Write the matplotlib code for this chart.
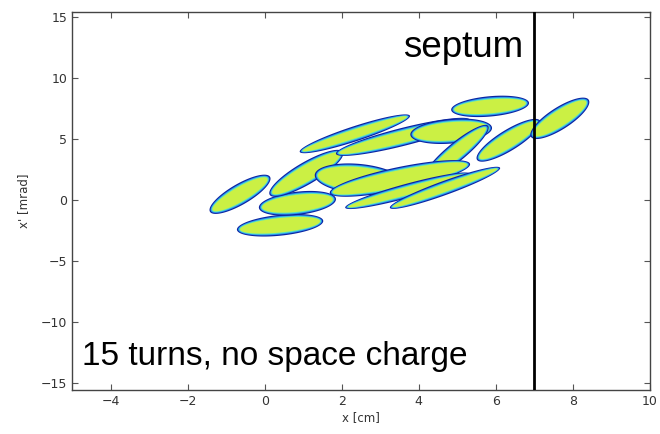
import numpy as np
import matplotlib
matplotlib.use("Agg")
import matplotlib.pyplot as plt

# beamlets after 15 turns: centre (x [cm], x' [mrad]), half major axis, minor/major ratio
centre_x = [-0.64, 0.40, 0.85, 1.08, 2.45, 2.34, 3.59, 4.84, 4.98, 3.51, 3.71, 4.68, 6.33, 7.66, 5.85]
centre_y = [0.45, -2.09, -0.29, 2.17, 1.70, 5.41, 5.16, 5.62, 3.93, 1.75, 0.74, 0.98, 4.88, 6.68, 7.66]
half_dx = [0.78, 1.12, 1.00, 0.95, 1.15, 1.43, 1.74, 1.06, 0.82, 1.82, 1.62, 1.43, 0.82, 0.75, 1.01]
half_dy = [1.43, 0.37, 0.37, 1.76, -0.35, 1.48, 1.39, 0.29, 2.13, 1.19, 1.39, 1.64, 1.60, 1.52, 0.29]
ratio = [0.30, 0.24, 0.30, 0.26, 0.34, 0.13, 0.13, 0.30, 0.23, 0.16, 0.11, 0.12, 0.28, 0.32, 0.26]

septum_x = 7.0
x_ticks = [-4, -2, 0, 2, 4, 6, 8, 10]
y_ticks = [-15, -10, -5, 0, 5, 10, 15]

fig = plt.figure(figsize=(6.6, 4.34), dpi=100)
ax = fig.add_axes([72 / 660, 44 / 434, 578 / 660, 378 / 434])
ax.set_xlim(-5, 10)
ax.set_ylim(-15.6, 15.4)

# colour layers from the edge inwards (jet-like density look)
layers = [(0.0, '#0a24a0'), (1.2, '#2a8ff0'), (2.2, '#5ae6c0'), (3.2, '#cbf044')]
t = np.linspace(0, 2 * np.pi, 200)
T = ax.transData

for i in range(len(centre_x)):
    p0 = T.transform((centre_x[i], centre_y[i]))
    p1 = T.transform((centre_x[i] + half_dx[i], centre_y[i] + half_dy[i]))
    a_vec = p1 - p0
    a_len = np.hypot(*a_vec)
    u = a_vec / a_len
    v = np.array([-u[1], u[0]])
    b_len = ratio[i] * a_len
    for d, col in layers:
        a = a_len - d
        b = b_len - d
        if b <= 0:
            continue
        pts = p0 + np.outer(np.cos(t) * a, u) + np.outer(np.sin(t) * b, v)
        data = T.inverted().transform(pts)
        ax.fill(data[:, 0], data[:, 1], color=col, lw=0, zorder=2)

ax.axvline(septum_x, color='black', lw=2.0, zorder=3)

ax.text(6.70, 11.72, 'septum', ha='right', va='baseline', fontsize=26.5,
        family='Liberation Sans', zorder=4)
ax.text(-4.74, -13.52, '15 turns, no space charge', ha='left', va='baseline',
        fontsize=24, family='Liberation Sans', zorder=4)

ax.set_xticks(x_ticks)
ax.set_yticks(y_ticks)
ax.tick_params(direction='in', top=True, right=True, length=4, width=0.8,
               color='#555555', labelsize=9, labelcolor='#333333')
for s in ax.spines.values():
    s.set_color('#444444')
    s.set_linewidth(1.0)

ax.set_xlabel('x [cm]', fontsize=8.5, color='#333333', labelpad=2)
ax.set_ylabel("x' [mrad]", fontsize=8.5, color='#333333', labelpad=8)

fig.savefig('out.png', dpi=100)
